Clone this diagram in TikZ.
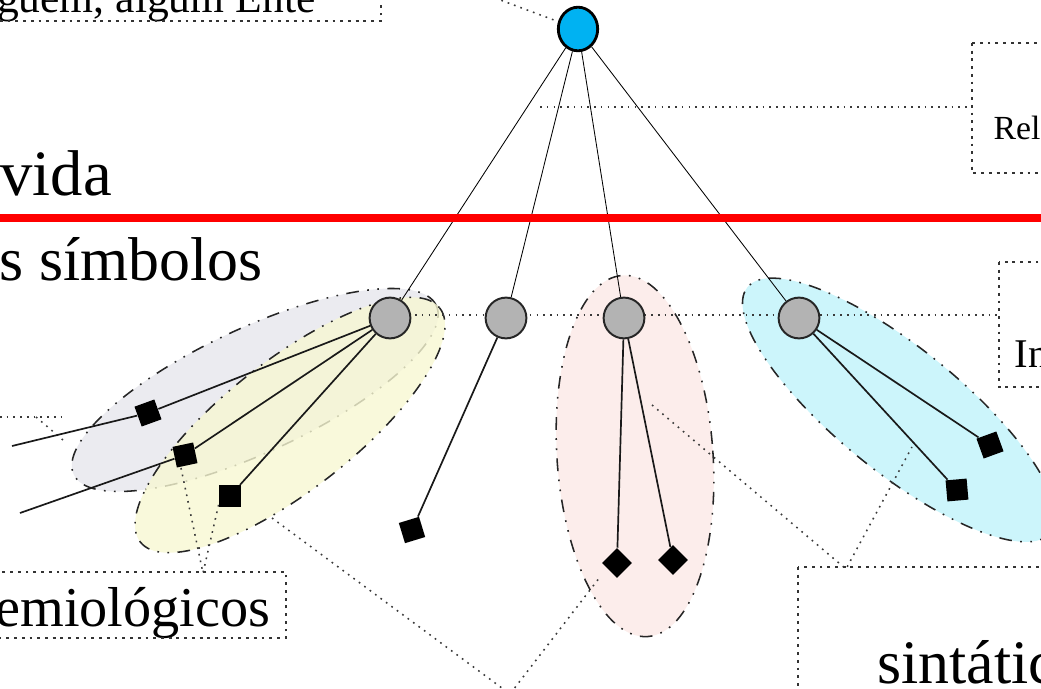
\documentclass[tikz,border=0pt]{standalone}
\usepackage{fontspec}
\setmainfont{Liberation Serif}
\usetikzlibrary{positioning, backgrounds}
\definecolor{cente}{HTML}{00B2F2}
\definecolor{cnode}{HTML}{B3B3B3}
\definecolor{cred}{HTML}{FF0000}
\definecolor{cgreyzone}{HTML}{E6E6EC}
\definecolor{cyellowzone}{HTML}{F7F7D2}
\definecolor{cpinkzone}{HTML}{FBE9E6}
\definecolor{ccyanzone}{HTML}{BFF2FA}
\definecolor{cleader}{HTML}{3A3A3A}
\tikzset{
  every picture/.style={line width=0.8pt},
  ente/.style={ellipse, draw=black, line width=2pt, fill=cente, minimum width=28pt, minimum height=31pt, inner sep=0pt},
  simb/.style={circle, draw=black!85, line width=1.4pt, fill=cnode, minimum size=29pt, inner sep=0pt},
  sinal/.style={rectangle, fill=black, minimum size=15pt, inner sep=0pt, rotate=#1},
  sinal/.default=0,
  zone/.style={fill=#1, fill opacity=0.8, draw=black!85, line width=1.1pt,
    dash pattern=on 9pt off 6pt on 1.2pt off 6pt on 1.2pt off 6pt},
  tie/.style={draw=black, line width=0.6pt},
  link/.style={draw=black!90, line width=1.2pt},
  leader/.style={draw=cleader, line width=1.1pt, dash pattern=on 1.2pt off 3.6pt},
  frame/.style={draw=black!80, line width=0.8pt, dash pattern=on 2pt off 3.5pt},
  big/.style={font=\fontsize{44}{50}\selectfont, inner sep=0pt},
}
\usetikzlibrary{shapes.geometric}
\begin{document}
\begin{tikzpicture}[x=0.025cm, y=-0.025cm]
  \useasboundingbox (0,0) rectangle (1041,689);

  % the Ente on top, the symbols below the line
  \node[ente] (ente) at (578,29) {};
  \node[simb] (sim1) at (390,318) {};
  \node[simb] (sim2) at (506,318) {};
  \node[simb] (sim3) at (624,318) {};
  \node[simb] (sim4) at (799,318) {};

  % signs
  \node[sinal=20] (s1) at (148,413) {};
  \node[sinal=12] (s2) at (185,455) {};
  \node[sinal] (s3) at (230,496) {};
  \node[sinal=17] (s4) at (412,530) {};
  \node[sinal=45] (s5) at (617,563) {};
  \node[sinal=45] (s6) at (673,560) {};
  \node[sinal=20] (s7) at (990,445) {};
  \node[sinal=5] (s8) at (957,490) {};
  \coordinate (out1) at (12,446);
  \coordinate (out2) at (20,513);

  \draw[tie] (ente) -- (sim1); \draw[tie] (ente) -- (sim2);
  \draw[tie] (ente) -- (sim3); \draw[tie] (ente) -- (sim4);
  \draw[link] (sim1) -- (s1) -- (out1);
  \draw[link] (sim1) -- (s2) -- (out2);
  \draw[link] (sim1) -- (s3);
  \draw[link] (sim2) -- (s4);
  \draw[link] (sim3) -- (s5); \draw[link] (sim3) -- (s6);
  \draw[link] (sim4) -- (s7); \draw[link] (sim4) -- (s8);

  \draw[cred, line width=5pt] (0,218) -- (1041,218);

  % texts
  \node[big, font=\fontsize{46}{52}\selectfont, anchor=base west] (vida) at (0,196) {vida};
  \node[big, anchor=base west] (simbolos) at (-1,281) {s símbolos};
  \node[big, font=\fontsize{40}{46}\selectfont, anchor=base east] (semio) at (271,626) {emiológicos};
  \node[big, anchor=base west] (sintat) at (877,683) {sintátic};
  \node[font=\fontsize{31}{35}\selectfont, inner sep=0pt, anchor=base east] (alguem) at (316,13) {guém, algum Ente};
  \node[font=\fontsize{24}{28}\selectfont, inner sep=0pt, anchor=base west] (rel) at (993,140) {Rel};
  \node[font=\fontsize{29}{33}\selectfont, inner sep=0pt, anchor=base west] (ind) at (1014,367) {In};

  % label frames
  \draw[frame] (-5,-5) rectangle (381,21);
  \draw[frame] (972,43) rectangle (1060,173);
  \draw[frame] (999,262) rectangle (1060,387);
  \draw[frame] (-5,572) rectangle (286,638);
  \draw[frame] (798,567) rectangle (1060,700);

  \begin{scope}[on background layer]
    \draw[zone=cgreyzone, rotate around={25:(255,390)}] (255,390) ellipse [x radius=200, y radius=62];
    \draw[zone=cyellowzone, rotate around={38:(290,425)}] (290,425) ellipse [x radius=190, y radius=65];
    \draw[zone=cpinkzone, rotate around={4:(635,456)}] (635,456) ellipse [x radius=78, y radius=181];
    \draw[zone=ccyanzone, rotate around={-39:(899,410)}] (899,410) ellipse [x radius=195, y radius=62];

    \coordinate (entetag) at (495,-2);
    \coordinate (relfoot) at (540,107);
    \coordinate (relbox) at (972,107);
    \coordinate (indfoot) at (415,315);
    \coordinate (indbox) at (999,315);
    \coordinate (semiotop) at (203,573);
    \coordinate (lowtip) at (510,694);
    \coordinate (sintattop) at (846,569);
    \draw[leader] (entetag) -- (ente);
    \draw[leader] (relfoot) -- (relbox);
    \draw[leader] (indfoot) -- (indbox);
    \draw[leader] (0,417) -- (63,417);
    \draw[leader] (36,417) -- (63,440);
    \draw[leader] (181,468) -- (semiotop) -- (219,503);
    \draw[leader] (272,518) -- (lowtip) -- (600,577);
    \draw[leader] (652,405) -- (sintattop) -- (912,447);
  \end{scope}
\end{tikzpicture}
\end{document}
